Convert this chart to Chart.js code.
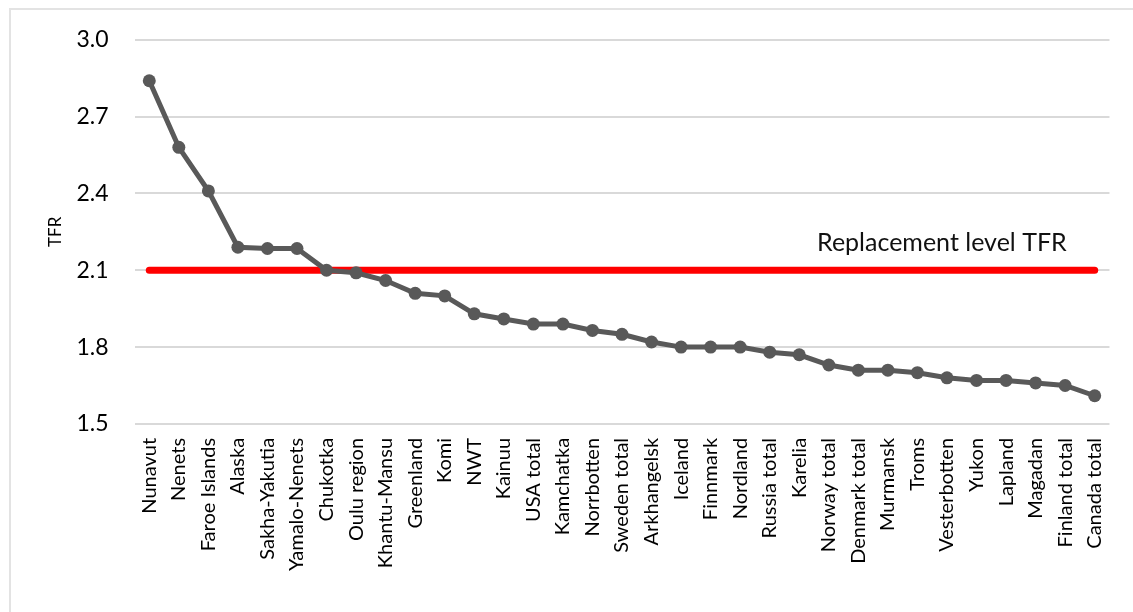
<!DOCTYPE html>
<html>
<head>
<meta charset="utf-8">
<script src="https://cdn.jsdelivr.net/npm/chart.js@4/dist/chart.umd.min.js"></script>
<style>
  html, body { margin: 0; padding: 0; background: #fff; }
  #wrap { position: relative; width: 1133px; height: 612px; }
  #frame { position: absolute; left: 9px; top: 8px; right: -10px; bottom: -10px;
           border-top: 2px solid #e3e3e3; border-left: 2px solid #e3e3e3; }
  canvas { position: absolute; left: 0; top: 0; }
</style>
</head>
<body>
<div id="wrap">
  <div id="frame"></div>
  <canvas id="tfr" width="1133" height="612"></canvas>
</div>
<script>
// regions, sorted by total fertility rate
var regions = ['Nunavut', 'Nenets', 'Faroe Islands', 'Alaska', 'Sakha-Yakutia', 'Yamalo-Nenets',
  'Chukotka', 'Oulu region', 'Khantu-Mansu', 'Greenland', 'Komi', 'NWT', 'Kainuu', 'USA total',
  'Kamchatka', 'Norrbotten', 'Sweden total', 'Arkhangelsk', 'Iceland', 'Finnmark', 'Nordland',
  'Russia total', 'Karelia', 'Norway total', 'Denmark total', 'Murmansk', 'Troms', 'Vesterbotten',
  'Yukon', 'Lapland', 'Magadan', 'Finland total', 'Canada total'];
var tfr = [2.84, 2.58, 2.41, 2.19, 2.185, 2.185, 2.10, 2.09, 2.06, 2.01, 2.00, 1.93, 1.91, 1.89,
  1.89, 1.865, 1.85, 1.82, 1.80, 1.80, 1.80, 1.78, 1.77, 1.73, 1.71, 1.71, 1.70, 1.68,
  1.67, 1.67, 1.66, 1.65, 1.61];
var replacement = 2.1;
var replacementLabel = 'Replacement level TFR';
var yTicks = [1.5, 1.8, 2.1, 2.4, 2.7, 3.0];

var refLine = regions.map(function () { return replacement; });

// writes the caption above the red line
var captionPlugin = {
  id: 'caption',
  afterDatasetsDraw: function (chart) {
    var ctx = chart.ctx;
    var x = chart.scales.x.getPixelForValue(regions.length - 1) - 28;
    var y = chart.scales.y.getPixelForValue(replacement) - 19;
    ctx.save();
    ctx.fillStyle = '#111';
    ctx.font = '25px Lato';
    ctx.textAlign = 'right';
    ctx.textBaseline = 'alphabetic';
    ctx.fillText(replacementLabel, x, y);
    ctx.restore();
  }
};

var ctx = document.getElementById('tfr').getContext('2d');
var chart = new Chart(ctx, {
  type: 'line',
  data: {
    labels: regions,
    datasets: [{
      label: 'TFR',
      data: tfr,
      borderColor: '#595959',
      backgroundColor: '#595959',
      borderWidth: 5,
      pointRadius: 6.5,
      pointBorderWidth: 0,
      tension: 0,
      order: 1
    }, {
      label: replacementLabel,
      data: refLine,
      borderColor: '#ff0000',
      borderWidth: 7,
      borderCapStyle: 'round',
      pointRadius: 0,
      tension: 0,
      order: 2
    }]
  },
  options: {
    responsive: false,
    animation: false,
    events: [],
    layout: { padding: { left: 45, right: 20, top: 36, bottom: 27 } },
    plugins: { legend: { display: false }, tooltip: { enabled: false } },
    scales: {
      x: {
        offset: true,
        grid: { display: false, drawTicks: false },
        border: { display: false },
        ticks: {
          color: '#000',
          font: { family: 'Lato', size: 20 },
          minRotation: 90, maxRotation: 90,
          autoSkip: false, padding: 14
        }
      },
      y: {
        min: 1.5, max: 3.0,
        afterBuildTicks: function (axis) {
          axis.ticks = yTicks.map(function (v) { return { value: v }; });
        },
        grid: { color: '#d9d9d9', lineWidth: 2, drawTicks: false },
        border: { display: false },
        title: { display: true, text: 'TFR', color: '#000', font: { family: 'Lato', size: 17 }, padding: { top: 0, bottom: -15 } },
        ticks: {
          color: '#000',
          font: { family: 'Lato', size: 23 },
          padding: 26,
          callback: function (v) { return Number(v).toFixed(1); }
        }
      }
    }
  },
  plugins: [captionPlugin]
});
</script>
</body>
</html>
